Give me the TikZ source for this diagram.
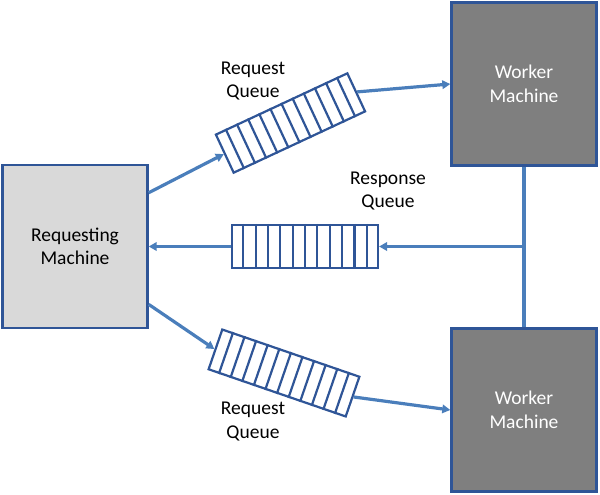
\documentclass[tikz,border=0pt]{standalone}
\usepackage{fontspec}
\setmainfont{Carlito}
\usetikzlibrary{arrows.meta,calc}
\definecolor{bord}{HTML}{2F5597}
\definecolor{arr}{HTML}{4A7EBB}
\definecolor{reqfill}{HTML}{D9D9D9}
\definecolor{wfill}{HTML}{7F7F7F}
\tikzset{
  machine/.style={draw=bord, line width=2.4pt, minimum width=145pt, minimum height=163pt, inner sep=0pt, align=center, font=\fontsize{19.5}{23.5}\selectfont},
  queuebox/.style={draw=bord, line width=2.2pt, fill=white, minimum width=145pt, minimum height=42pt, inner sep=0pt},
  conn/.style={draw=arr, line width=3.2pt, -{Triangle[length=8pt,width=8.5pt]}},
  plainconn/.style={draw=arr, line width=3.2pt},
  lbl/.style={align=center, font=\fontsize{19.5}{23.5}\selectfont, inner sep=0pt},
}
\begin{document}
\begin{tikzpicture}[x=1pt,y=-1pt]
\useasboundingbox (0,0) rectangle (600,495);
\node[machine, fill=reqfill] (req) at (75,246.5) {Requesting\\Machine};
\node[machine, fill=wfill, text=white] (w1) at (524,84) {Worker\\Machine};
\node[machine, fill=wfill, text=white] (w2) at (524,410) {Worker\\Machine};
\draw[plainconn] (w1.south) -- (w2.north);
\node[queuebox, rotate=25] (q1) at (290.5,123) {};
\node[queuebox, rotate=-19] (q3) at (284,373) {};
\node[queuebox, minimum width=146pt, minimum height=43pt] (q2) at (305,246.5) {};
\foreach \q in {q1,q2,q3}{
  \foreach \i in {1,...,11}{
    \draw[bord, line width=2.2pt] ($(\q.north west)!\i/12!(\q.north east)$) -- ($(\q.south west)!\i/12!(\q.south east)$);
  }
}
\node[lbl] (l1) at (253,81) {Request\\Queue};
\node[lbl] (l2) at (388,191) {Response\\Queue};
\node[lbl] (l3) at (253,421.5) {Request\\Queue};
\coordinate (rq1) at ($(req.north east)!0.175!(req.south east)$);
\coordinate (rq3) at ($(req.north east)!0.85!(req.south east)$);
\draw[conn] (rq1) -- (q1.west);
\draw[conn] (q1.east) -- (w1.west);
\draw[conn] (rq3) -- (q3.west);
\draw[conn] (q3.east) -- (w2.west);
\coordinate (junc) at (w1.south |- q2.east);
\draw[conn] (junc) -- (q2.east);
\draw[conn] (q2.west) -- (req.east);
\end{tikzpicture}
\end{document}
